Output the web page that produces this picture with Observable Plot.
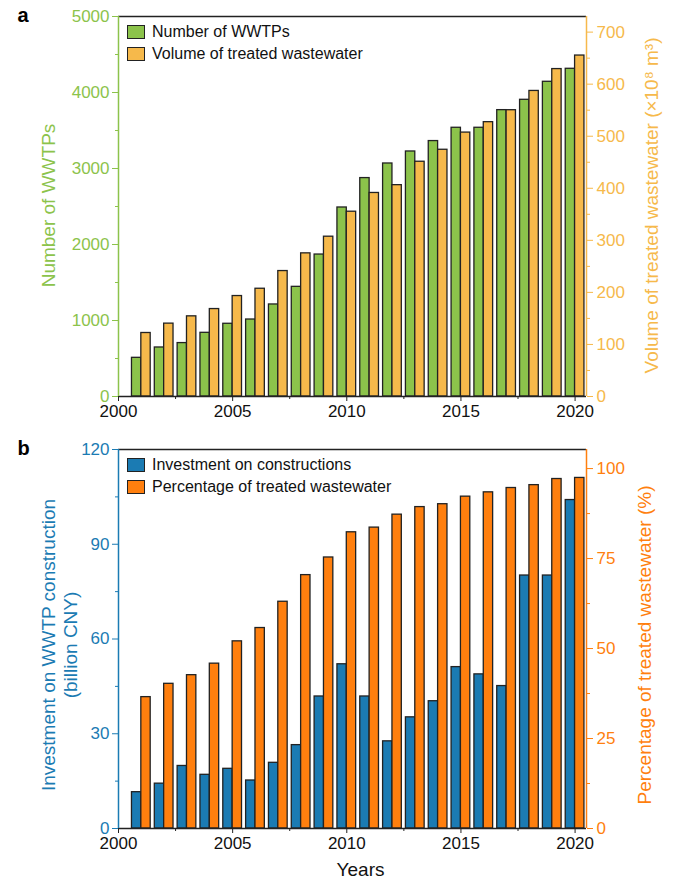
<!DOCTYPE html>
<html><head><meta charset="utf-8">
<script src="https://cdn.jsdelivr.net/npm/d3@7"></script>
<script src="https://cdn.jsdelivr.net/npm/@observablehq/plot@0.6"></script>
<style>
body{margin:0;background:#fff;font-family:"Liberation Sans",Arial,sans-serif;}
#root{position:relative;width:684px;height:883px;overflow:hidden;}
#root svg{display:block;}
.legend{position:absolute;left:127px;font-size:16px;color:#111;font-family:"Liberation Sans",Arial,sans-serif;}
.row{display:flex;align-items:center;height:22px;white-space:nowrap;}
.sw{box-sizing:border-box;width:18px;height:14px;border:1.3px solid #222;margin-right:7px;flex:none;}
</style></head><body><div id="root"></div>
<script>
// ---------- data ----------
const years = [2001,2002,2003,2004,2005,2006,2007,2008,2009,2010,2011,2012,2013,2014,2015,2016,2017,2018,2019,2020];
const wwtpCount = [509,645,703,838,957,1013,1211,1443,1868,2487,2874,3066,3224,3361,3536,3536,3768,3904,4141,4312];
const treatedVolume = [122,140,154,168,193,207,241,275,307,355,391,406,451,474,507,527,550,587,629,655];
const investment = [11.5,14.2,19.8,17.0,18.9,15.2,20.8,26.4,41.8,52.0,41.8,27.6,35.2,40.3,51.1,48.8,45.1,80.1,80.1,104.0];
const treatedPct = [36.5,40.2,42.6,45.8,52.0,55.7,63.0,70.4,75.3,82.3,83.6,87.2,89.3,90.1,92.2,93.4,94.6,95.4,97.1,97.4];

const xTicks = [2000,2005,2010,2015,2020];
const xMinor = [2002.5,2007.5,2012.5,2017.5];
const countTicks = [0,1000,2000,3000,4000,5000];
const countMinor = [500,1500,2500,3500,4500];
const volumeTicks = [0,100,200,300,400,500,600,700];
const volumeMinor = [50,150,250,350,450,550,650];
const investTicks = [0,30,60,90,120];
const investMinor = [15,45,75,105];
const pctTicks = [0,25,50,75,100];
const pctMinor = [12.5,37.5,62.5,87.5];

const labelsA = {left:"Number of WWTPs", right:"Volume of treated wastewater (×10⁸ m³)", s1:"Number of WWTPs", s2:"Volume of treated wastewater"};
const labelsB = {left:"Investment on WWTP construction\n(billion CNY)", right:"Percentage of treated wastewater (%)", s1:"Investment on constructions", s2:"Percentage of treated wastewater", x:"Years"};

// ---------- styling ----------
const GREEN = "#8cc34b", LORANGE = "#f6b94b", BLUE = "#1b7bb3", ORANGE = "#ff7f0e";
const FONT = "'Liberation Sans', Arial, sans-serif";
const XDOM = [2000, 2020.5];
const BW = 0.41;

function panel({rows, leftMax, rightMax, c1, c2, lTicks, lMinor, rTicks, rMinor, labels, tag, height, marginTop, marginBottom, titleDy, rightDx}) {
  const k = leftMax / rightMax;
  const edge = {stroke:"#222", strokeWidth:1.3};
  const marks = [
    Plot.rect(rows, {x1: d => d.year - BW, x2: d => d.year, y1: 0, y2: d => d.a, fill: c1, stroke:"#222", strokeWidth:1.3}),
    Plot.rect(rows, {x1: d => d.year, x2: d => d.year + BW, y1: 0, y2: d => d.b * k, fill: c2, stroke:"#222", strokeWidth:1.3}),
    Plot.ruleY([leftMax], edge),
    Plot.ruleY([0], edge),
    Plot.ruleX([XDOM[0]], {stroke: c1, strokeWidth:1.5}),
    Plot.ruleX([XDOM[1]], {stroke: c2, strokeWidth:1.5}),
    Plot.axisY(lTicks, {anchor:"left", tickSize:6, tickPadding:3, stroke:c1, fill:c1, label:null, tickFormat: d => String(d)}),
    Plot.axisY(lMinor, {anchor:"left", tickSize:3, stroke:c1, fill:"none", label:null}),
    Plot.axisY(rTicks.map(t => t * k), {anchor:"right", tickSize:6, tickPadding:4, stroke:c2, fill:c2, label:null, tickFormat: d => String(Math.round(d / k))}),
    Plot.axisY(rMinor.map(t => t * k), {anchor:"right", tickSize:3, stroke:c2, fill:"none", label:null}),
    Plot.axisX(xTicks, {tickSize:5, tickPadding:3, stroke:"#222", fill:"#111", label:null, tickFormat: d => String(d)}),
    Plot.axisX(xMinor, {tickSize:3, stroke:"#222", fill:"none", label:null}),
    Plot.text([labels.left], {text: d => d, frameAnchor:"left", textAnchor:"middle", rotate:-90, dx:-79, dy: titleDy, lineAnchor:"top", lineHeight:1.16, fill:c1, fontSize:19}),
    Plot.text([labels.right], {text: d => d, frameAnchor:"right", textAnchor:"middle", rotate:-90, dx: rightDx, dy: titleDy, lineAnchor:"bottom", fill:c2, fontSize:19}),
    Plot.text([tag], {text: d => d, frameAnchor:"top-left", dx:-101, dy: 5, lineAnchor:"bottom", textAnchor:"start", fill:"#000", fontSize:20, fontWeight:"bold"})
  ];
  if (labels.x) marks.push(Plot.text([labels.x], {text: d => d, frameAnchor:"bottom", textAnchor:"middle", dx: 8, dy: 47, lineAnchor:"bottom", fill:"#111", fontSize:19}));
  return Plot.plot({
    width: 684, height, marginLeft:118, marginRight:98, marginTop, marginBottom,
    x: {domain: XDOM}, y: {domain: [0, leftMax]},
    style: {fontFamily: FONT, fontSize: "17px", background: "white", overflow: "visible", color:"#111"},
    marks
  });
}

function legend(top, items) {
  const div = document.createElement("div");
  div.className = "legend";
  div.style.top = top + "px";
  for (const [label, color] of items) {
    const r = document.createElement("div"); r.className = "row";
    const s = document.createElement("span"); s.className = "sw"; s.style.background = color;
    const t = document.createElement("span"); t.textContent = label;
    r.append(s, t); div.append(r);
  }
  return div;
}

const root = document.getElementById("root");
const rowsA = years.map((year, i) => ({year, a: wwtpCount[i], b: treatedVolume[i]}));
const rowsB = years.map((year, i) => ({year, a: investment[i], b: treatedPct[i]}));

root.append(panel({rows: rowsA, leftMax: 5000, rightMax: 730, c1: GREEN, c2: LORANGE, lTicks: countTicks, lMinor: countMinor, rTicks: volumeTicks, rMinor: volumeMinor, labels: labelsA, tag: "a", height: 420, marginTop: 16, marginBottom: 24, titleDy: -1, rightDx: 71}));
root.append(panel({rows: rowsB, leftMax: 120, rightMax: 105.3, c1: BLUE, c2: ORANGE, lTicks: investTicks, lMinor: investMinor, rTicks: pctTicks, rMinor: pctMinor, labels: labelsB, tag: "b", height: 463, marginTop: 29, marginBottom: 55, titleDy: 6, rightDx: 64}));
root.append(legend(21, [[labelsA.s1, GREEN], [labelsA.s2, LORANGE]]));
root.append(legend(454, [[labelsB.s1, BLUE], [labelsB.s2, ORANGE]]));
</script></body></html>
